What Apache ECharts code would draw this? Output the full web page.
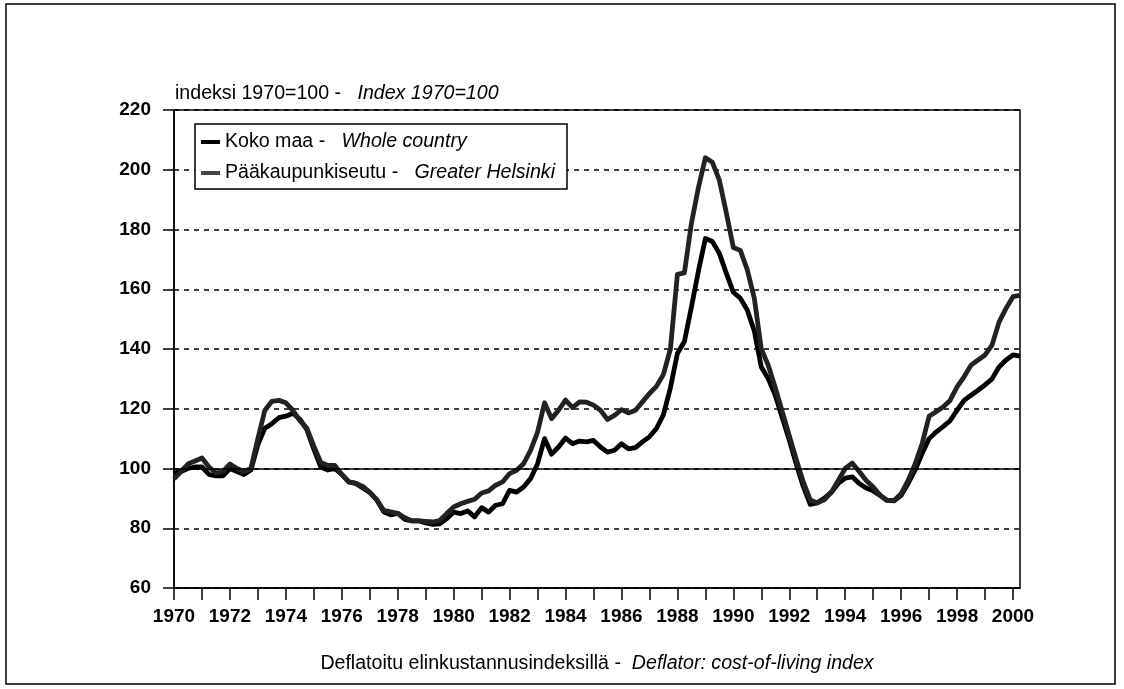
<!DOCTYPE html>
<html>
<head>
<meta charset="utf-8">
<script src="https://cdn.jsdelivr.net/npm/echarts@6/dist/echarts.min.js"></script>
<style>
html,body{margin:0;padding:0;background:#fff;}
#chart{width:1124px;height:689px;}
</style>
</head>
<body>
<div id="chart"></div>
<script>
// Quarterly data, 1970Q1 .. 2000Q2
const startYear = 1970;
const quartersPerYear = 4;

const seriesNames = ['Koko maa', 'Pääkaupunkiseutu'];
const seriesNamesEn = ['Whole country', 'Greater Helsinki'];

const wholeCountry = [
  98.5, 99, 100, 100.5,      // 1970
  100.5, 98, 97.5, 97.5,     // 1971
  100, 99, 98, 99.5,         // 1972
  108, 113.5, 115, 117,      // 1973
  117.5, 118.5, 116.5, 113,  // 1974
  106.5, 100.5, 99.5, 100,   // 1975
  98, 95.5, 95, 93.5,        // 1976
  92, 89.5, 85.5, 84.5,      // 1977
  85, 83, 82.5, 82.5,        // 1978
  81.8, 81.3, 81.5, 83.2,    // 1979
  85.4, 84.9, 85.8, 83.8,    // 1980
  86.9, 85.4, 87.7, 88.2,    // 1981
  92.7, 92.1, 93.8, 96.6,    // 1982
  101.6, 110, 104.8, 107.2,  // 1983
  110.2, 108.3, 109.2, 108.9,// 1984
  109.4, 107.2, 105.5, 106.1,// 1985
  108.3, 106.6, 107, 108.9,  // 1986
  110.6, 113.4, 118, 127,    // 1987
  138.5, 142.5, 154, 166,    // 1988
  177, 176, 172, 165.3,      // 1989
  159, 157, 153, 146,        // 1990
  134, 130, 124.5, 117,      // 1991
  109.5, 101.5, 94, 88,      // 1992
  88.5, 90, 92, 95,          // 1993
  96.8, 97.2, 95, 93.5,      // 1994
  92.5, 91, 89.3, 89.2,      // 1995
  91, 95, 99.5, 105,         // 1996
  110, 112.2, 114, 116,      // 1997
  119.5, 122.8, 124.5, 126.2,// 1998
  128, 130, 134, 136.3,      // 1999
  138, 137.6                 // 2000
];

const greaterHelsinki = [
  96.5, 99, 101.5, 102.5,    // 1970
  103.5, 100.5, 98.5, 99,    // 1971
  101.5, 100, 99, 100,       // 1972
  110, 119.5, 122.5, 122.8,  // 1973
  122, 119.5, 116, 113.5,    // 1974
  107.5, 102, 101, 101,      // 1975
  98, 95.5, 95, 94,          // 1976
  92, 89.5, 86, 85.5,        // 1977
  85, 83.5, 82.5, 82.5,      // 1978
  82.3, 82.1, 82.6, 84.9,    // 1979
  87.1, 88.2, 89, 89.7,      // 1980
  91.8, 92.5, 94.4, 95.5,    // 1981
  98.3, 99.4, 101.6, 106.1,  // 1982
  112.2, 122, 116.7, 119.5,  // 1983
  122.9, 120.4, 122.3, 122.2,// 1984
  121.2, 119.5, 116.4, 117.8,// 1985
  119.7, 118.6, 119.5, 122.3,// 1986
  125.1, 127.5, 131.5, 140,  // 1987
  165, 165.5, 182, 194,      // 1988
  204, 202.5, 196.5, 185.5,  // 1989
  174, 173, 166.5, 157,      // 1990
  140, 134.5, 127, 119,      // 1991
  111, 103, 95.5, 89.5,      // 1992
  88.5, 89.5, 92, 96,        // 1993
  100, 101.8, 99, 96,        // 1994
  93.8, 91, 89.3, 89.3,      // 1995
  91.6, 96, 101.5, 108.3,    // 1996
  117.5, 119, 120.6, 122.8,  // 1997
  127.3, 130.7, 134.6, 136.3,// 1998
  138, 141.3, 149, 153.6,    // 1999
  157.5, 158                 // 2000
];

const xTickYears = [1970,1971,1972,1973,1974,1975,1976,1977,1978,1979,1980,1981,1982,1983,1984,1985,1986,1987,1988,1989,1990,1991,1992,1993,1994,1995,1996,1997,1998,1999,2000];
const xLabelYears = [1970,1972,1974,1976,1978,1980,1982,1984,1986,1988,1990,1992,1994,1996,1998,2000];
const yMin = 60, yMax = 220, yStep = 20;
const referenceLevel = 100;

const titleFi = 'indeksi 1970=100 -   ';
const titleEn = 'Index 1970=100';
const captionFi = 'Deflatoitu elinkustannusindeksillä -  ';
const captionEn = 'Deflator: cost-of-living index';

const FONT = '"Liberation Sans", Arial, Helvetica, sans-serif';
const FS = 19.6;

function toPoints(arr){
  return arr.map((v, i) => [startYear + i / quartersPerYear, v]);
}

function richPair(){
  return {
    a: { fontSize: FS, fontFamily: FONT, color: '#000', lineHeight: FS },
    b: { fontSize: FS, fontFamily: FONT, color: '#000', fontStyle: 'italic', lineHeight: FS }
  };
}

const chart = echarts.init(document.getElementById('chart'), null, {renderer:'canvas'});
const option = {
  animation: false,
  backgroundColor: '#ffffff',
  textStyle: { fontFamily: FONT, color: '#000' },
  graphic: [{
    type: 'rect', silent: true, z: 0,
    shape: { x: 6, y: 4, width: 1109, height: 680 },
    style: { fill: 'none', stroke: '#000', lineWidth: 1.5 }
  }],
  title: {
    left: 175, top: 84, padding: 0,
    text: '{a|' + titleFi + '}{b|' + titleEn + '}',
    textStyle: {
      fontSize: FS, fontWeight: 'normal', color: '#000', fontFamily: FONT,
      rich: richPair()
    }
  },
  legend: {
    orient: 'vertical', left: 195, top: 124,
    padding: [8, 12, 6, 6], itemGap: 11,
    itemWidth: 19, itemHeight: 4, icon: 'rect',
    borderColor: '#000', borderWidth: 1.5, backgroundColor: '#fff',
    data: seriesNames,
    formatter: function(name){
      const i = seriesNames.indexOf(name);
      return '{a|' + name + ' -   }{b|' + seriesNamesEn[i] + '}';
    },
    textStyle: {
      fontSize: FS, color: '#000', fontFamily: FONT,
      rich: richPair()
    }
  },
  grid: {
    left: 174, right: 104, top: 110, bottom: 101,
    show: true, borderColor: '#000', borderWidth: 1.5, backgroundColor: 'transparent'
  },
  xAxis: {
    type: 'value', min: startYear, max: 2000.25,
    name: '{a|' + captionFi + '}{b|' + captionEn + '}',
    nameLocation: 'middle', nameGap: 66,
    nameTextStyle: {
      fontSize: FS, color: '#000', fontFamily: FONT,
      rich: richPair()
    },
    axisLine: { show: true, lineStyle: { color: '#000', width: 1.5 } },
    axisTick: { show: true, customValues: xTickYears, length: 12, inside: false, lineStyle: { color: '#000', width: 1.5 } },
    axisLabel: {
      customValues: xLabelYears, margin: 19,
      fontSize: 19, fontWeight: 'bold', color: '#000', fontFamily: FONT,
      formatter: v => String(v)
    },
    splitLine: { show: false }
  },
  yAxis: {
    type: 'value', min: yMin, max: yMax, interval: yStep,
    axisLine: { show: true, lineStyle: { color: '#000', width: 1.5 } },
    axisTick: { show: true, length: 11, inside: false, lineStyle: { color: '#000', width: 1.5 } },
    axisLabel: { margin: 23, fontSize: 19, fontWeight: 'bold', color: '#000', fontFamily: FONT },
    splitLine: { show: true, lineStyle: { color: '#000', width: 1.5, type: [5, 5] } }
  },
  series: [
    {
      name: seriesNames[0], type: 'line', data: toPoints(wholeCountry),
      symbol: 'none', showSymbol: false, smooth: false, z: 3,
      lineStyle: { color: '#000', width: 4.8, join: 'round' },
      itemStyle: { color: '#000' },
      markLine: {
        silent: true, symbol: ['none', 'none'], label: { show: false },
        lineStyle: { color: '#000', width: 1.5, type: 'solid' },
        data: [{ yAxis: referenceLevel }]
      }
    },
    {
      name: seriesNames[1], type: 'line', data: toPoints(greaterHelsinki),
      symbol: 'none', showSymbol: false, smooth: false, z: 4,
      lineStyle: { color: '#222', width: 4.8, join: 'round' },
      itemStyle: { color: '#444' }
    }
  ]
};
chart.setOption(option);
</script>
</body>
</html>
